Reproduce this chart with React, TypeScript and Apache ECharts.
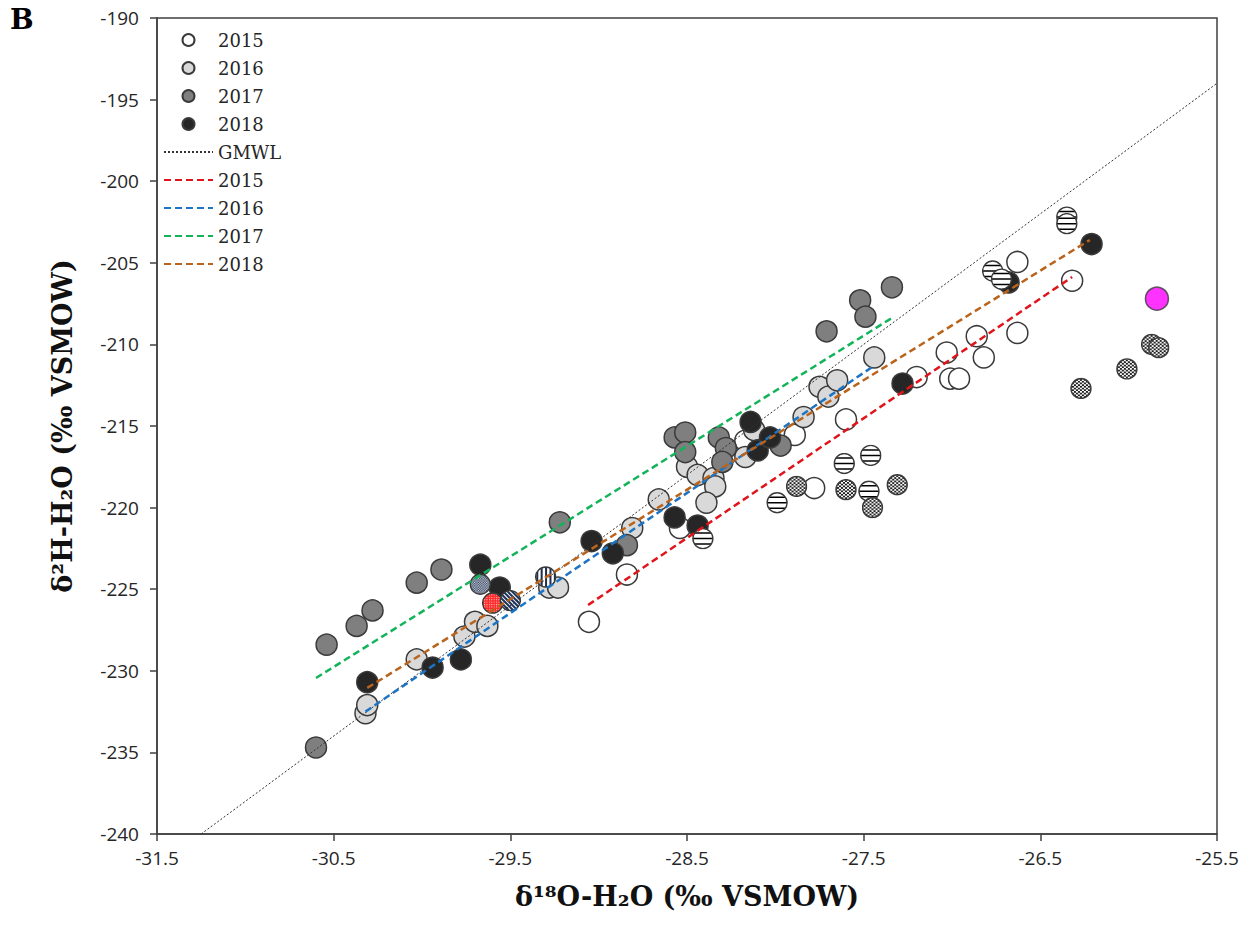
import React, { useEffect, useRef } from 'react';
import * as echarts from 'echarts';

// ---------- DATA (δ18O, δ2H) ----------
const X_TICKS = [-31.5, -30.5, -29.5, -28.5, -27.5, -26.5, -25.5];

const pts2015: number[][] = [
  [-29.055, -227.0], [-28.84, -224.1], [-28.54, -221.25], [-28.17, -215.9], [-27.89, -215.55],
  [-27.78, -218.8], [-27.6, -214.6], [-27.2, -212.0], [-27.03, -210.5], [-27.01, -212.1],
  [-26.96, -212.1], [-26.86, -209.5], [-26.82, -210.8], [-26.63, -204.95], [-26.63, -209.3],
  [-26.32, -206.1],
];
const pts2016: number[][] = [
  [-30.32, -232.6], [-30.31, -232.1], [-30.03, -229.3], [-29.76, -227.9], [-29.7, -227.0],
  [-29.63, -227.25], [-29.28, -224.9], [-29.23, -224.9], [-28.81, -221.25], [-28.66, -219.5],
  [-28.5, -217.5], [-28.44, -218.0], [-28.35, -218.2], [-28.34, -218.7], [-28.39, -219.7],
  [-28.17, -216.9], [-28.12, -215.25], [-27.84, -214.45], [-27.75, -212.6], [-27.7, -213.2],
  [-27.65, -212.2], [-27.44, -210.8],
];
const pts2017: number[][] = [
  [-30.6, -234.7], [-30.54, -228.4], [-30.37, -227.25], [-30.28, -226.3], [-30.03, -224.6],
  [-29.89, -223.8], [-29.22, -220.9], [-28.84, -222.3], [-28.57, -215.7], [-28.51, -215.4],
  [-28.51, -216.6], [-28.32, -215.7], [-28.28, -216.35], [-28.3, -217.2], [-27.97, -216.2],
  [-27.71, -209.2], [-27.52, -207.3], [-27.49, -208.3], [-27.34, -206.5],
];
const pts2018: number[][] = [
  [-30.31, -230.7], [-29.94, -229.8], [-29.78, -229.3], [-29.67, -223.5], [-29.56, -224.9],
  [-29.04, -222.05], [-28.92, -222.8], [-28.57, -220.6], [-28.44, -221.1], [-28.14, -214.75],
  [-28.1, -216.5], [-28.03, -215.7], [-27.28, -212.4], [-26.68, -206.2], [-26.21, -203.85],
];
const ptsHStripe: number[][] = [
  [-28.41, -221.9], [-27.99, -219.7], [-27.61, -217.3], [-27.46, -216.8], [-27.47, -219.0],
  [-26.77, -205.5], [-26.72, -206.0], [-26.35, -202.2], [-26.35, -202.6],
];
const ptsDotted: number[][] = [
  [-27.88, -218.7], [-27.6, -218.9], [-27.45, -220.0], [-27.31, -218.6],
  [-25.87, -210.0], [-25.83, -210.2], [-26.01, -211.5], [-26.27, -212.7],
];
const ptsChecker: number[][] = [[-29.67, -224.7]];
const ptsRedChecker: number[][] = [[-29.6, -225.85]];
const ptsDiagStripe: number[][] = [[-29.5, -225.7]];
const ptsVStripe: number[][] = [[-29.3, -224.25]];
const ptsMagenta: number[][] = [[-25.84, -207.2]];

const lineGMWL: number[][] = [[-31.25, -240], [-25.5, -194]];
const fit2015: number[][] = [[-29.06, -225.97], [-26.32, -205.87]];
const fit2016: number[][] = [[-30.32, -232.5], [-27.44, -211.3]];
const fit2017: number[][] = [[-30.6, -230.44], [-27.34, -208.38]];
const fit2018: number[][] = [[-30.31, -231.05], [-26.22, -203.6]];

const LEGEND_NAMES = ['2015', '2016', '2017', '2018', 'GMWL', '2015 fit', '2016 fit', '2017 fit', '2018 fit'];

// ---------- styles ----------
const BORDER = '#3a3a3a';
const SERIF = "'DejaVu Serif', serif";
const SANS = "'Open Sans', sans-serif";

function circleSymbol(inner: string, defs = ''): string {
  const svg =
    `<svg xmlns="http://www.w3.org/2000/svg" width="44" height="44" viewBox="0 0 22 22">` +
    `<defs><clipPath id="c"><circle cx="11" cy="11" r="10"/></clipPath>${defs}</defs>` +
    `<g clip-path="url(#c)">${inner}</g>` +
    `<circle cx="11" cy="11" r="10" fill="none" stroke="${BORDER}" stroke-width="1.4"/></svg>`;
  return 'image://data:image/svg+xml;charset=utf-8,' + encodeURIComponent(svg);
}

const SYM_HSTRIPE = circleSymbol(
  `<rect width="22" height="22" fill="#fff"/><g stroke="#000" stroke-width="1.5">` +
    `<line x1="0" y1="5.5" x2="22" y2="5.5"/><line x1="0" y1="11" x2="22" y2="11"/>` +
    `<line x1="0" y1="16.5" x2="22" y2="16.5"/></g>`
);
const SYM_DOTTED = circleSymbol(
  `<rect width="22" height="22" fill="#fff"/><rect width="22" height="22" fill="url(#p)"/>`,
  `<pattern id="p" width="4" height="3.4" patternUnits="userSpaceOnUse">` +
    `<circle cx="1" cy="0.85" r="1.0" fill="#000"/><circle cx="3" cy="2.55" r="1.0" fill="#000"/></pattern>`
);
const SYM_CHECKER = circleSymbol(
  `<rect width="22" height="22" fill="url(#p)"/>`,
  `<pattern id="p" width="2.4" height="2.4" patternUnits="userSpaceOnUse">` +
    `<rect width="2.4" height="2.4" fill="#c4cad6"/><rect width="1.2" height="1.2" fill="#34425e"/>` +
    `<rect x="1.2" y="1.2" width="1.2" height="1.2" fill="#34425e"/></pattern>`
);
const SYM_REDCHECKER = circleSymbol(
  `<rect width="22" height="22" fill="url(#p)"/>`,
  `<pattern id="p" width="2.4" height="2.4" patternUnits="userSpaceOnUse">` +
    `<rect width="2.4" height="2.4" fill="#ff2a2a"/><rect width="1" height="1" fill="#ffd0d0"/></pattern>`
);
const SYM_DIAG = circleSymbol(
  `<rect width="22" height="22" fill="#fff"/><g stroke="#1f3459" stroke-width="2.1">` +
    [-20, -15.6, -11.2, -6.8, -2.4, 2, 6.4, 10.8, 15.2, 19.6]
      .map((o) => `<line x1="${o}" y1="0" x2="${o + 22}" y2="22"/>`)
      .join('') +
    `</g>`
);
const SYM_VSTRIPE = circleSymbol(
  `<rect width="22" height="22" fill="#fff"/><g stroke="#1f2c4a" stroke-width="2">` +
    [2.6, 7, 11.4, 15.8, 20.2].map((o) => `<line x1="${o}" y1="0" x2="${o}" y2="22"/>`).join('') +
    `</g>`
);

function yearScatter(name: string, data: number[][], color: string) {
  return {
    name,
    type: 'scatter',
    data,
    symbol: 'circle',
    symbolSize: 21,
    itemStyle: { color, borderColor: BORDER, borderWidth: 1.5, opacity: 1 },
    z: 3,
  };
}
function patternScatter(name: string, data: number[][], symbol: string, size = 22) {
  return { name, type: 'scatter', data, symbol, symbolSize: size, z: 4, itemStyle: { opacity: 1 } };
}
function fitLine(name: string, data: number[][], color: string, width: number, dash: number[]) {
  return {
    name,
    type: 'line',
    data,
    symbol: 'none',
    showSymbol: false,
    z: 6,
    silent: true,
    itemStyle: { color },
    lineStyle: { color, width, type: dash },
  };
}

export default function App() {
  const ref = useRef<HTMLDivElement>(null);
  useEffect(() => {
    if (!ref.current) return;
    const chart = echarts.init(ref.current, null, { renderer: 'svg' });
    chart.setOption({
      animation: false,
      backgroundColor: '#ffffff',
      title: {
        text: 'B',
        left: 10,
        top: 5,
        padding: 0,
        textStyle: { fontFamily: SERIF, fontWeight: 'bold', fontSize: 28, color: '#000' },
      },
      grid: {
        left: 157,
        right: 34,
        top: 18,
        bottom: 98,
        show: true,
        borderColor: '#404040',
        borderWidth: 1.5,
        backgroundColor: 'transparent',
      },
      legend: {
        orient: 'vertical',
        left: 163,
        top: 30,
        padding: 0,
        itemWidth: 49,
        itemHeight: 12,
        itemGap: 8,
        selectedMode: false,
        data: LEGEND_NAMES.map((n, i) =>
          i < 4 ? { name: n } : { name: n, itemStyle: { opacity: 0 } }
        ),
        formatter: (n: string) => n.replace(' fit', ''),
        textStyle: { fontFamily: SERIF, fontSize: 18, color: '#262626', lineHeight: 20 },
      },
      xAxis: {
        type: 'value',
        min: -31.5,
        max: -25.5,
        name: 'δ¹⁸O-H₂O (‰ VSMOW)',
        nameLocation: 'middle',
        nameGap: 49,
        nameTextStyle: { fontFamily: SERIF, fontWeight: 'bold', fontSize: 27, color: '#111' },
        axisLine: { onZero: false, lineStyle: { color: '#404040', width: 1.5 } },
        axisTick: { show: true, inside: false, length: 7, customValues: X_TICKS, lineStyle: { color: '#404040', width: 1.5 } },
        axisLabel: {
          customValues: X_TICKS,
          margin: 14,
          fontFamily: SANS,
          fontSize: 19,
          color: '#262626',
          formatter: (v: number) => v.toFixed(1),
        },
        splitLine: { show: false },
      },
      yAxis: {
        type: 'value',
        min: -240,
        max: -190,
        interval: 5,
        name: 'δ²H-H₂O (‰ VSMOW)',
        nameLocation: 'middle',
        nameGap: 81,
        nameTextStyle: { fontFamily: SERIF, fontWeight: 'bold', fontSize: 27, color: '#111' },
        axisLine: { show: true, onZero: false, lineStyle: { color: '#404040', width: 1.5 } },
        axisTick: { show: true, inside: false, length: 7, lineStyle: { color: '#404040', width: 1.5 } },
        axisLabel: { margin: 18, fontFamily: SANS, fontSize: 19, color: '#262626' },
        splitLine: { show: false },
      },
      series: [
        yearScatter('2015', pts2015, '#ffffff'),
        yearScatter('2016', pts2016, '#d9d9d9'),
        yearScatter('2017', pts2017, '#7f7f7f'),
        yearScatter('2018', pts2018, '#262626'),
        patternScatter('Horizontal stripes', ptsHStripe, SYM_HSTRIPE),
        patternScatter('Dotted', ptsDotted, SYM_DOTTED),
        patternScatter('Checkered', ptsChecker, SYM_CHECKER),
        patternScatter('Red checkered', ptsRedChecker, SYM_REDCHECKER),
        patternScatter('Diagonal stripes', ptsDiagStripe, SYM_DIAG),
        patternScatter('Vertical stripes', ptsVStripe, SYM_VSTRIPE),
        {
          name: 'Magenta',
          type: 'scatter',
          data: ptsMagenta,
          symbol: 'circle',
          symbolSize: 23,
          z: 4,
          itemStyle: { color: '#ff00ff', borderColor: BORDER, borderWidth: 1.5 },
        },
        fitLine('GMWL', lineGMWL, '#333333', 1, [2, 2]),
        fitLine('2015 fit', fit2015, '#e0151b', 2.5, [7, 4]),
        fitLine('2016 fit', fit2016, '#1c74c4', 2.5, [7, 4]),
        fitLine('2017 fit', fit2017, '#13b35a', 2.5, [7, 4]),
        fitLine('2018 fit', fit2018, '#b9631c', 2.5, [7, 4]),
      ],
    });
    return () => chart.dispose();
  }, []);
  return (
    <div
      ref={ref}
      style={{ position: 'fixed', left: 0, top: 0, width: 1251, height: 932, background: '#fff' }}
    />
  );
}
